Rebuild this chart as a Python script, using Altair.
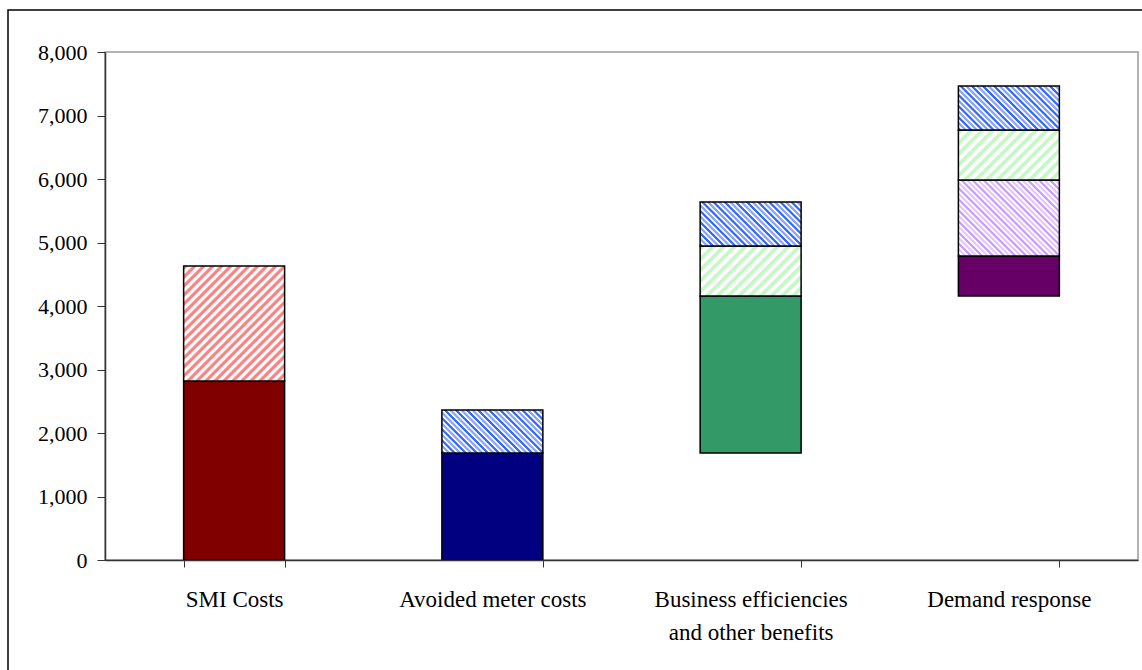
import altair as alt

# Waterfall-style build-up of SMI costs and benefits
categories = [
    "SMI Costs",
    "Avoided meter costs",
    "Business efficiencies\nand other benefits",
    "Demand response",
]

seg_category = [
    "SMI Costs", "SMI Costs",
    "Avoided meter costs", "Avoided meter costs",
    "Business efficiencies\nand other benefits",
    "Business efficiencies\nand other benefits",
    "Business efficiencies\nand other benefits",
    "Demand response", "Demand response", "Demand response", "Demand response",
]
seg_start = [0, 2820, 0, 1685, 1685, 4157, 4945, 4157, 4787, 5984, 6772]
seg_end = [2820, 4630, 1685, 2362, 4157, 4945, 5638, 4787, 5984, 6772, 7465]
seg_style = [
    "maroon", "red_hatch",
    "navy", "blue_hatch",
    "green", "green_hatch", "blue_hatch",
    "purple", "violet_hatch", "green_hatch", "blue_hatch",
]

y_ticks = [0, 1000, 2000, 3000, 4000, 5000, 6000, 7000, 8000]

# plot geometry
PLOT_W, PLOT_H = 1033, 508
Y_MAX = 8000
PAD_INNER = 0.609
BAR_W = PLOT_W / len(categories) * (1 - PAD_INNER)

SOLIDS = {
    "maroon": "#800000",
    "navy": "#000080",
    "green": "#339966",
    "purple": "#660066",
}

# (direction, pitch in px, [(colour, share of period), ...])
HATCHES = {
    "red_hatch": ("up", 9, [("#FF8080", 0.5), ("#FFFFFF", 0.5)]),
    "green_hatch": ("up", 11, [("#C6F7C6", 0.5), ("#FFFFFF", 0.5)]),
    "blue_hatch": ("down", 11, [("#3366FF", 0.3), ("#FFFFFF", 0.2),
                               ("#86A3FF", 0.3), ("#FFFFFF", 0.2)]),
    "violet_hatch": ("down", 11, [("#CC99FF", 0.3), ("#FFFFFF", 0.2),
                                 ("#E2C8FF", 0.3), ("#FFFFFF", 0.2)]),
}


def stripe_stops(pattern, cycles):
    stops = []
    for i in range(cycles):
        o = i / cycles
        for col, frac in pattern:
            seg = frac / cycles
            stops.append({"offset": round(o + seg * 0.2, 6), "color": col})
            stops.append({"offset": round(o + seg * 0.8, 6), "color": col})
            o += seg
    return stops


def hatch_fill(style, w, h):
    direction, pitch, pattern = HATCHES[style]
    s = (w + h) / (w * w + h * h)
    gx, gy = w * s, h * s
    cycles = max(1, round((w + h) / pitch))
    grad = {"gradient": "linear", "stops": stripe_stops(pattern, cycles)}
    if direction == "up":   # stripes running "/"
        grad.update({"x1": 0, "y1": 0, "x2": gx, "y2": gy})
    else:                   # stripes running "\"
        grad.update({"x1": 0, "y1": 1, "x2": gx, "y2": 1 - gy})
    return grad


records = []
for cat, a, b, st in zip(seg_category, seg_start, seg_end, seg_style):
    h = (b - a) * PLOT_H / Y_MAX
    fill = SOLIDS[st] if st in SOLIDS else hatch_fill(st, BAR_W, h)
    records.append({"category": cat, "start": a, "end": b, "fill": fill})

FONT = "Liberation Serif"

bars = alt.Chart(alt.Data(values=records)).mark_bar(
    stroke="black", strokeWidth=1.5
).encode(
    x=alt.X(
        "category:N",
        sort=categories,
        title=None,
        scale=alt.Scale(paddingInner=PAD_INNER, paddingOuter=PAD_INNER / 2),
        axis=alt.Axis(
            labelAngle=0,
            labelExpr="split(datum.label, '\\n')",
            labelFont=FONT,
            labelFontSize=23,
            labelColor="black",
            labelPadding=21,
            labelLineHeight=33,
            labelLimit=0,
            labelOverlap=False,
            tickBand="extent",
            tickSize=7,
            tickColor="#333333",
            domainColor="#333333",
            domainWidth=1.5,
            zindex=1,
        ),
    ),
    y=alt.Y(
        "start:Q",
        title=None,
        scale=alt.Scale(domain=[0, Y_MAX], nice=False),
        axis=alt.Axis(
            values=y_ticks,
            format=",.0f",
            labelFont=FONT,
            labelFontSize=22,
            labelColor="black",
            labelPadding=10,
            tickSize=8,
            tickColor="#333333",
            domainColor="#333333",
            domainWidth=1.5,
            grid=False,
            zindex=1,
        ),
    ),
    y2="end:Q",
    fill=alt.Fill("fill:N", scale=None),
)

# outer frame around the whole figure
frame = alt.Chart(alt.Data(values=[{"f": 1}])).mark_rect(
    filled=False, stroke="black", strokeWidth=1.5
).encode(
    x=alt.value(-97),
    x2=alt.value(PLOT_W + 60),
    y=alt.value(-42),
    y2=alt.value(PLOT_H + 160),
)

chart = alt.layer(bars, frame).properties(
    width=PLOT_W,
    height=PLOT_H,
    autosize=alt.AutoSizeParams(type="none"),
    padding={"left": 105, "top": 52, "right": 4, "bottom": 110},
    background="white",
).configure_view(
    stroke="#9A9A9A", strokeWidth=1.5
)

chart.save("out.html", embed_options={"renderer": "svg", "actions": False})
